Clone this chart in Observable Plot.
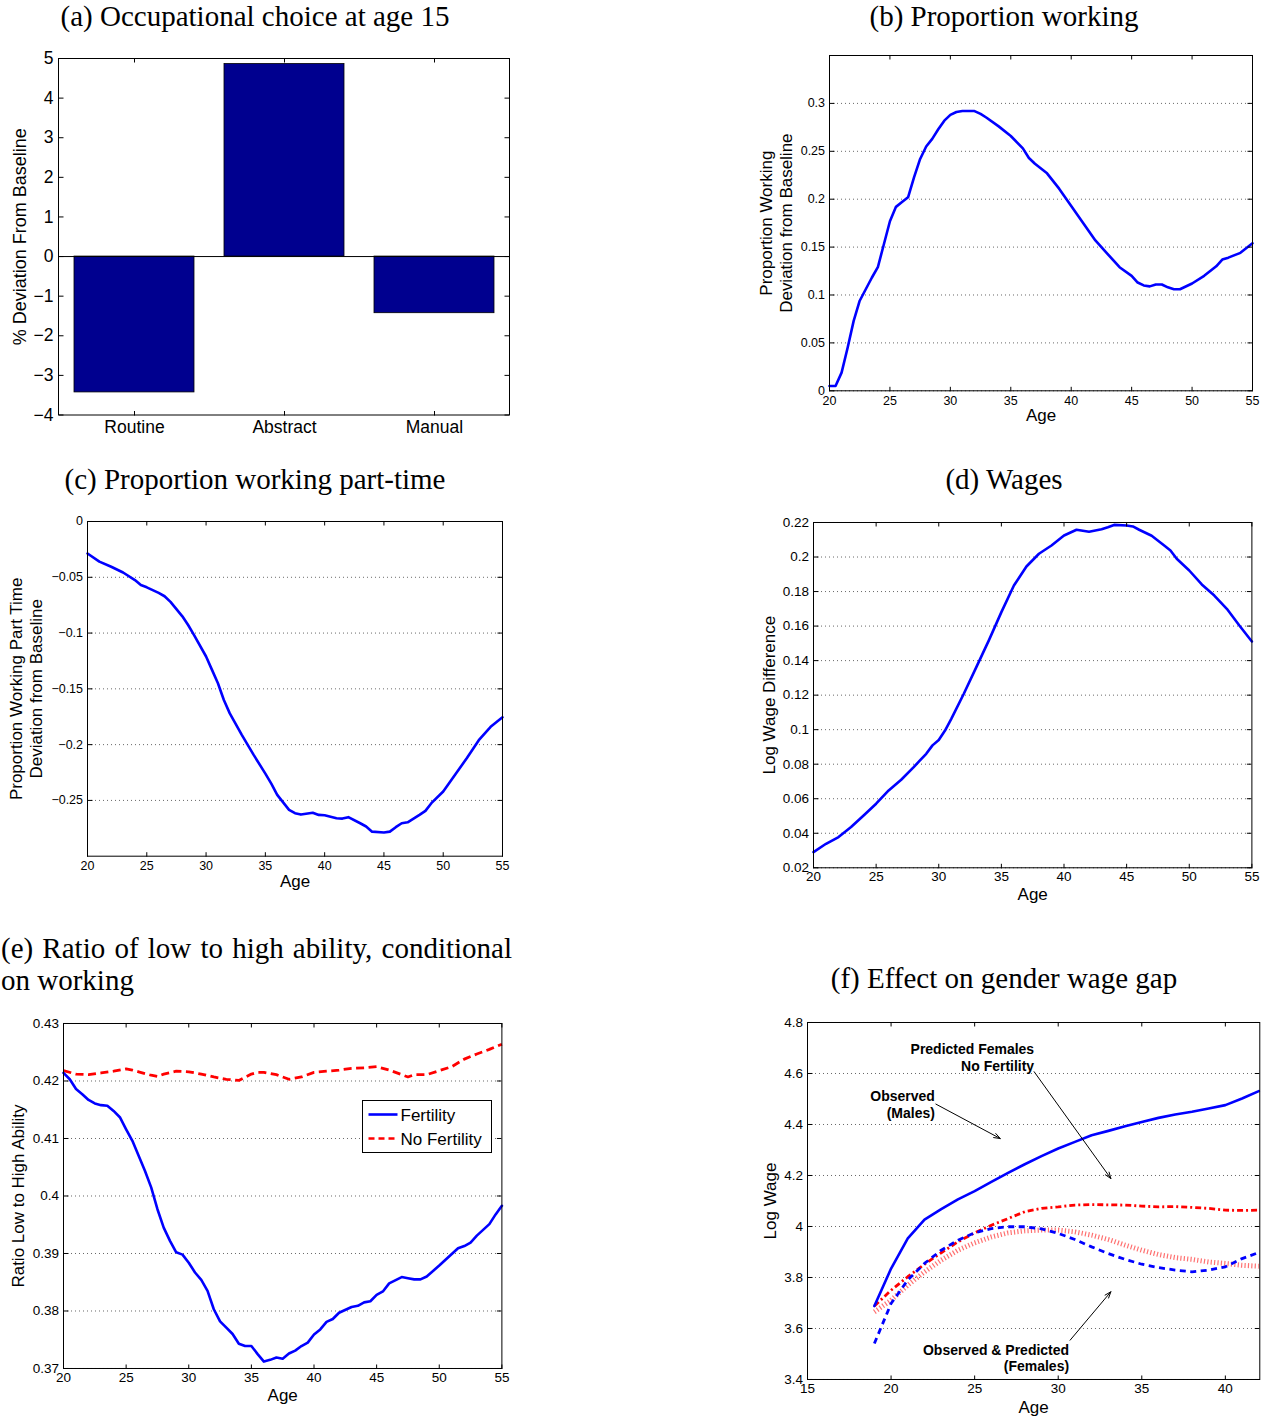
<!DOCTYPE html>
<html>
<head>
<meta charset="utf-8">
<script src="https://cdn.jsdelivr.net/npm/d3@7"></script>
<script src="https://cdn.jsdelivr.net/npm/@observablehq/plot@0.6"></script>
<style>
  body { margin: 0; background: #fff; }
  #root { position: relative; width: 1270px; height: 1421px; overflow: hidden; background: #fff;
          font-family: "Liberation Sans", Arial, Helvetica, sans-serif; }
  .title { position: absolute; font-family: "Liberation Serif", "Times New Roman", serif; font-size: 29px;
           line-height: 1; white-space: nowrap; color: #000; }
</style>
</head>
<body>
<div id="root"></div>
<script>
// ---------------- DATA ----------------
// (a) Occupational choice at age 15
const aCategories = ["Routine", "Abstract", "Manual"];
const aValues = [-3.43, 4.86, -1.43];
const aTicks = [-4, -3, -2, -1, 0, 1, 2, 3, 4, 5];

// (b) Proportion working
const bAge = [20,20.5,21,21.5,22,22.5,23,23.5,24,24.5,25,25.5,26,26.5,27,27.5,28,28.5,29,29.5,30,30.5,31,31.5,32,32.5,33,34,35,36,36.5,37,38,39,40,41,42,43,44,45,45.5,46,46.5,47,47.5,48,48.5,49,50,51,52,52.5,53,54,55];
const bValue = [0.005,0.005,0.019,0.045,0.073,0.094,0.106,0.118,0.129,0.153,0.177,0.192,0.197,0.202,0.223,0.242,0.255,0.263,0.273,0.282,0.288,0.291,0.292,0.292,0.292,0.289,0.285,0.276,0.266,0.253,0.243,0.237,0.227,0.211,0.193,0.175,0.157,0.143,0.129,0.120,0.113,0.110,0.109,0.111,0.111,0.108,0.106,0.106,0.112,0.120,0.130,0.137,0.139,0.144,0.154];
const bYTicks = [0, 0.05, 0.1, 0.15, 0.2, 0.25, 0.3];

// (c) Proportion working part-time
const cAge = [20,21,22,23,24,24.5,25,26,26.5,27,28,28.5,29,30,30.5,31,31.5,32,33,34,35,35.5,36,37,37.5,38,39,39.5,40,41,41.5,42,43,43.5,44,45,45.5,46,46.5,47,48,48.5,49,50,51,52,53,54,55];
const cValue = [-0.0287,-0.036,-0.0406,-0.0457,-0.0525,-0.057,-0.059,-0.064,-0.067,-0.072,-0.085,-0.093,-0.102,-0.121,-0.133,-0.145,-0.160,-0.172,-0.191,-0.209,-0.226,-0.235,-0.245,-0.2585,-0.2615,-0.2627,-0.261,-0.263,-0.2633,-0.266,-0.2663,-0.265,-0.2705,-0.2734,-0.278,-0.2788,-0.278,-0.274,-0.2705,-0.2696,-0.263,-0.2594,-0.2525,-0.242,-0.227,-0.212,-0.196,-0.184,-0.1755];
const cYTicks = [-0.25, -0.2, -0.15, -0.1, -0.05, 0];

// (d) Wages
const dAge = [20,21,22,23,24,25,26,27,28,28.5,29,29.5,30,30.5,31,32,33,34,35,36,37,38,39,40,41,42,43,43.5,44,45,45.5,46,47,48,48.5,49,50,51,52,53,54,55];
const dValue = [0.0291,0.0339,0.0378,0.0436,0.0503,0.0571,0.0648,0.071,0.0783,0.0822,0.086,0.0909,0.094,0.0995,0.1063,0.1208,0.1362,0.1517,0.1681,0.1835,0.1945,0.2019,0.2067,0.2125,0.2158,0.2146,0.2161,0.2173,0.2186,0.2183,0.2177,0.2158,0.2123,0.2067,0.2038,0.1990,0.1922,0.1841,0.1777,0.170,0.1603,0.1511];
const dYTicks = [0.02, 0.04, 0.06, 0.08, 0.1, 0.12, 0.14, 0.16, 0.18, 0.2, 0.22];

// (e) Ratio of low to high ability, conditional on working
const eSeries = ["Fertility", "No Fertility"];
const eAgeFert = [20,20.5,21,21.5,22,22.5,23,23.5,24,24.5,25,25.5,26,26.5,27,27.5,28,28.5,29,29.5,30,30.5,31,31.5,32,32.5,33,33.5,34,34.5,35,35.5,36,36.5,37,37.5,38,38.5,39,39.5,40,40.5,41,41.5,42,43,43.5,44,44.5,45,45.5,46,47,47.5,48,48.5,49,50,51,51.5,52,52.5,53,54,54.5,55];
const eFertility = [0.4214,0.4203,0.4186,0.4177,0.4167,0.4161,0.4158,0.4157,0.4148,0.4137,0.4116,0.4096,0.4070,0.4044,0.4015,0.3977,0.3945,0.3922,0.3902,0.3898,0.3884,0.3867,0.3854,0.3835,0.3803,0.3782,0.3771,0.3760,0.3743,0.3739,0.3739,0.3725,0.3712,0.3715,0.3719,0.3717,0.3726,0.3731,0.3739,0.3745,0.3759,0.3768,0.3781,0.3786,0.3797,0.3807,0.3809,0.3815,0.3817,0.3828,0.3834,0.3848,0.3859,0.3857,0.3855,0.3855,0.3860,0.3879,0.3899,0.3909,0.3913,0.3919,0.3931,0.3951,0.3968,0.3983];
const eAgeNoFert = [20,21,22,23,24,25,25.5,26,27,27.5,28,29,30,31,32,33,34,35,35.5,36,37,38,39,40,41,42,43,44,45,46,47,47.5,48,49,50,51,52,53,54,55];
const eNoFertility = [0.4218,0.4212,0.4211,0.4214,0.4217,0.4221,0.4219,0.4216,0.4210,0.4208,0.4212,0.4217,0.4216,0.4212,0.4207,0.4203,0.4201,0.4212,0.4215,0.4215,0.4211,0.4203,0.4207,0.4215,0.4217,0.4219,0.4222,0.4223,0.4225,0.4219,0.4211,0.4207,0.4211,0.4211,0.4218,0.4225,0.4238,0.4247,0.4255,0.4264];
const eYTicks = [0.37, 0.38, 0.39, 0.4, 0.41, 0.42, 0.43];

// (f) Effect on gender wage gap
const fAge = [19,20,21,22,23,24,25,26,27,28,29,30,31,32,33,34,35,36,37,38,39,40,41,42];
const fMales = [3.688,3.835,3.953,4.027,4.068,4.106,4.139,4.175,4.210,4.244,4.276,4.306,4.332,4.358,4.375,4.393,4.410,4.426,4.439,4.450,4.463,4.476,4.502,4.531];
const fNoFertility = [3.688,3.750,3.803,3.852,3.897,3.940,3.975,4.005,4.031,4.058,4.071,4.077,4.084,4.086,4.085,4.084,4.080,4.077,4.078,4.075,4.071,4.064,4.063,4.064];
const fObservedFemales = [3.541,3.698,3.790,3.855,3.907,3.946,3.975,3.992,3.999,3.999,3.991,3.973,3.949,3.920,3.894,3.871,3.852,3.839,3.829,3.822,3.829,3.842,3.874,3.898];
const fPredictedFemales = [3.665,3.711,3.770,3.822,3.868,3.907,3.936,3.959,3.975,3.983,3.986,3.986,3.979,3.966,3.949,3.927,3.907,3.890,3.878,3.871,3.861,3.855,3.848,3.844];
const fNotes = ["Predicted Females\nNo Fertility", "Observed\n(Males)", "Observed & Predicted\n(Females)"];
const fNoteAge = [28.56, 22.62, 30.65];
const fNoteWage = [4.665, 4.480, 3.485];
const fArrowFromAge = [28.56, 22.68, 30.71];
const fArrowFromWage = [4.607, 4.480, 3.554];
const fArrowToAge = [33.15, 26.53, 33.15];
const fArrowToWage = [4.188, 4.345, 3.744];
const fXTicks = [15, 20, 25, 30, 35, 40];
const fYTicks = [3.4, 3.6, 3.8, 4, 4.2, 4.4, 4.6, 4.8];

const ageTicks = [20, 25, 30, 35, 40, 45, 50, 55];
const titles = ["(a) Occupational choice at age 15", "(b) Proportion working", "(c) Proportion working part-time",
                "(d) Wages", "(e) Ratio of low to high ability, conditional", "on working", "(f) Effect on gender wage gap"];

// ---------------- RENDERING ----------------
const FONT = '"Liberation Sans", Arial, Helvetica, sans-serif';
const root = document.getElementById("root");
const fmt = d => (d < 0 ? "\u2212" : "") + String(Math.abs(d));
const BLUE = "#0000ff", RED = "#ff0000";

function place(el, left, top) {
  el.style.position = "absolute";
  el.style.left = left + "px";
  el.style.top = top + "px";
  root.appendChild(el);
}

function boxAxes(W, H, o) {
  const TS = 4.5;
  const out = [
    Plot.axisX(o.xTicks, {anchor: "bottom", tickSize: 0, tickPadding: o.xPad, tickFormat: o.xFormat || fmt, fontSize: o.tickFont, label: null}),
    Plot.axisY(o.yTicks, {anchor: "left", tickSize: 0, tickPadding: o.yPad, tickFormat: o.yFormat || fmt, fontSize: o.tickFont, label: null}),
    // inward ticks on all four sides
    Plot.axisX(o.xTicks, {anchor: "top", tickSize: TS, fill: "none", label: null, dy: H}),
    Plot.axisX(o.xTicks, {anchor: "bottom", tickSize: TS, fill: "none", label: null, dy: -H}),
    Plot.axisY(o.yTicks, {anchor: "right", tickSize: TS, fill: "none", label: null, dx: -W}),
    Plot.axisY(o.yTicks, {anchor: "left", tickSize: TS, fill: "none", label: null, dx: W})
  ];
  // y label, one axis mark per line
  o.yLabel.forEach((line, i) => out.push(
    Plot.axisY(o.yTicks, {anchor: "left", tickSize: 0, tickFormat: () => "", fontSize: o.labelFont, label: line,
      labelAnchor: "center", labelArrow: "none", labelOffset: o.yLabelOffset - i * 20})));
  if (o.xLabel) out.push(Plot.axisX(o.xTicks, {anchor: "bottom", tickSize: 0, tickFormat: () => "", fontSize: o.labelFont,
      label: o.xLabel, labelAnchor: "center", labelArrow: "none", labelOffset: o.xLabelOffset}));
  return out;
}

function panel(frame, m, scales, makeMarks) {
  const [x0, y0, x1, y1] = frame;
  const W = x1 - x0, H = y1 - y0;
  const chart = Plot.plot({
    width: W + m.l + m.r, height: H + m.t + m.b,
    marginLeft: m.l, marginRight: m.r, marginTop: m.t, marginBottom: m.b,
    style: {fontFamily: FONT, fontSize: "13px", overflow: "visible", background: "transparent", color: "black"},
    ...scales,
    marks: makeMarks(W, H)
  });
  place(chart, x0 - m.l, y0 - m.t);
}

const grid = ticks => Plot.gridY(ticks, {stroke: "black", strokeOpacity: 0.6, strokeDasharray: "1,3", strokeWidth: 1});
const frameMark = () => Plot.frame({stroke: "black", strokeWidth: 1});
const BUTT = {strokeLinecap: "butt", strokeLinejoin: "miter"};

// (a)
panel([58, 57.5, 509, 414], {l: 55, r: 10, t: 8, b: 40},
  {x: {type: "band", domain: aCategories, paddingInner: 0.2, paddingOuter: 0.1}, y: {domain: [-4, 5]}},
  (W, H) => [
    Plot.barY(aValues, {x: aCategories, y: aValues, fill: "#00008f", stroke: "black", strokeWidth: 0.8}),
    Plot.ruleY([0], {stroke: "black", strokeWidth: 1}),
    ...boxAxes(W, H, {xTicks: aCategories, yTicks: aTicks, xFormat: d => d, xPad: 6, yPad: 5, tickFont: 17.5,
      labelFont: 18, yLabel: ["% Deviation From Baseline"], yLabelOffset: 45.3}),
    frameMark()
  ]);

// (b)
panel([828.7, 54.7, 1251.7, 390], {l: 75, r: 12, t: 8, b: 40},
  {x: {domain: [20, 55]}, y: {domain: [0, 0.35]}},
  (W, H) => [
    grid(bYTicks),
    Plot.line(bValue, {x: bAge, y: bValue, stroke: BLUE, strokeWidth: 2.6}),
    ...boxAxes(W, H, {xTicks: ageTicks, yTicks: bYTicks, xPad: 5, yPad: 4.5, tickFont: 12.5, labelFont: 17,
      yLabel: ["Proportion Working", "Deviation from Baseline"], yLabelOffset: 69.4, xLabel: "Age", xLabelOffset: 30}),
    frameMark()
  ]);

// (c)
panel([86.7, 521.3, 501.7, 856], {l: 82, r: 12, t: 8, b: 40},
  {x: {domain: [20, 55]}, y: {domain: [-0.3, 0]}},
  (W, H) => [
    grid(cYTicks),
    Plot.line(cValue, {x: cAge, y: cValue, stroke: BLUE, strokeWidth: 2.6}),
    ...boxAxes(W, H, {xTicks: ageTicks, yTicks: cYTicks, xPad: 5, yPad: 4.5, tickFont: 12.5, labelFont: 17,
      yLabel: ["Proportion Working Part Time", "Deviation from Baseline"], yLabelOffset: 77.4, xLabel: "Age", xLabelOffset: 30.7}),
    frameMark()
  ]);

// (d)
panel([813.3, 522, 1251.7, 867.3], {l: 56, r: 12, t: 8, b: 42},
  {x: {domain: [20, 55]}, y: {domain: [0.02, 0.22]}},
  (W, H) => [
    grid(dYTicks),
    Plot.line(dValue, {x: dAge, y: dValue, stroke: BLUE, strokeWidth: 2.6}),
    ...boxAxes(W, H, {xTicks: ageTicks, yTicks: dYTicks, xPad: 4, yPad: 4.5, tickFont: 13.5, labelFont: 17,
      yLabel: ["Log Wage Difference"], yLabelOffset: 50.6, xLabel: "Age", xLabelOffset: 32.7}),
    frameMark()
  ]);

// (e)
panel([63.3, 1022.7, 501.7, 1367.7], {l: 56, r: 12, t: 8, b: 42},
  {x: {domain: [20, 55]}, y: {domain: [0.37, 0.43]}},
  (W, H) => [
    grid(eYTicks),
    Plot.line(eNoFertility, {x: eAgeNoFert, y: eNoFertility, stroke: RED, strokeWidth: 2.8, strokeDasharray: "8,4.5", ...BUTT}),
    Plot.line(eFertility, {x: eAgeFert, y: eFertility, stroke: BLUE, strokeWidth: 2.6}),
    ...boxAxes(W, H, {xTicks: ageTicks, yTicks: eYTicks, xPad: 4, yPad: 4.5, tickFont: 13.5, labelFont: 17,
      yLabel: ["Ratio Low to High Ability"], yLabelOffset: 51.6, xLabel: "Age", xLabelOffset: 32.3}),
    frameMark()
  ]);

// (f)
panel([806.7, 1022.3, 1259, 1379.3], {l: 50, r: 8, t: 8, b: 42},
  {x: {domain: [15, 42.06]}, y: {domain: [3.4, 4.8]}},
  (W, H) => [
    grid(fYTicks),
    Plot.line(fPredictedFemales, {x: fAge, y: fPredictedFemales, stroke: "#ff4040", strokeOpacity: 0.75, strokeWidth: 5, strokeDasharray: "1.2,2.2", ...BUTT}),
    Plot.line(fNoFertility, {x: fAge, y: fNoFertility, stroke: RED, strokeWidth: 2.8, strokeDasharray: "6,3,2,3", ...BUTT}),
    Plot.line(fObservedFemales, {x: fAge, y: fObservedFemales, stroke: BLUE, strokeWidth: 2.8, strokeDasharray: "6,4.5", ...BUTT}),
    Plot.line(fMales, {x: fAge, y: fMales, stroke: BLUE, strokeWidth: 2.6}),
    Plot.arrow(fArrowFromAge, {x1: fArrowFromAge, y1: fArrowFromWage, x2: fArrowToAge, y2: fArrowToWage,
      stroke: "black", strokeWidth: 1, headLength: 10, headAngle: 40}),
    Plot.text(fNotes, {x: fNoteAge, y: fNoteWage, text: fNotes, textAnchor: "end", lineAnchor: "middle",
      fontWeight: "bold", fontSize: 14, lineHeight: 1.19, fill: "black"}),
    ...boxAxes(W, H, {xTicks: fXTicks, yTicks: fYTicks, xPad: 4, yPad: 4.5, tickFont: 13.5, labelFont: 17,
      yLabel: ["Log Wage"], yLabelOffset: 44, xLabel: "Age", xLabelOffset: 34}),
    frameMark()
  ]);

// Legend for (e)
(function () {
  const lg = d3.create("svg").attr("width", 131).attr("height", 54)
    .style("overflow", "visible").style("font-family", FONT);
  lg.append("rect").attr("x", 0.5).attr("y", 0.5).attr("width", 129).attr("height", 52)
    .attr("fill", "white").attr("stroke", "black").attr("stroke-width", 1);
  const styles = [{stroke: BLUE, dash: null}, {stroke: RED, dash: "6,4"}];
  eSeries.forEach((name, i) => {
    const y = 14.5 + i * 24;
    lg.append("line").attr("x1", 6.5).attr("x2", 35.5).attr("y1", y).attr("y2", y)
      .attr("stroke", styles[i].stroke).attr("stroke-width", 2.6).attr("stroke-dasharray", styles[i].dash);
    lg.append("text").attr("x", 38.5).attr("y", y + 6.5).attr("font-size", 17).attr("fill", "black").text(name);
  });
  place(lg.node(), 361.5, 1100.2);
})();

// Titles
const TF = 29;
function title(text, cx, baseline) {
  const d = document.createElement("div");
  d.className = "title";
  d.textContent = text;
  d.style.left = cx + "px";
  d.style.top = (baseline - 0.8375 * TF) + "px";
  d.style.transform = "translateX(-50%)";
  root.appendChild(d);
}
title(titles[0], 255, 26);
title(titles[1], 1004, 26);
title(titles[2], 255, 489.5);
title(titles[3], 1004, 489.5);
title(titles[6], 1004, 988);
(function () {
  const l1 = document.createElement("div");
  l1.className = "title";
  l1.textContent = titles[4];
  Object.assign(l1.style, {left: "1px", width: "511px", top: (958 - 0.8375 * TF) + "px",
    textAlign: "justify", textAlignLast: "justify", whiteSpace: "normal"});
  root.appendChild(l1);
  const l2 = document.createElement("div");
  l2.className = "title";
  l2.textContent = titles[5];
  Object.assign(l2.style, {left: "1px", top: (990 - 0.8375 * TF) + "px"});
  root.appendChild(l2);
})();
</script>
</body>
</html>
